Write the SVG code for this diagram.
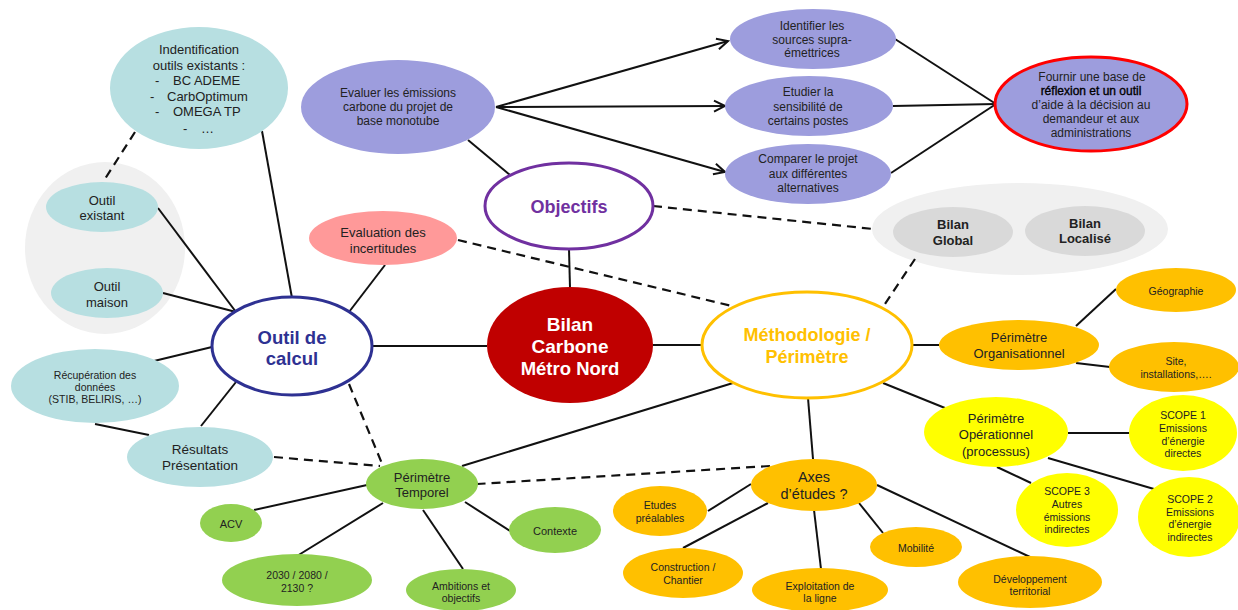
<svg xmlns="http://www.w3.org/2000/svg" width="1238" height="610" viewBox="0 0 1238 610">
<style>
text{font-family:"Liberation Sans",Arial,sans-serif;fill:#222;text-anchor:middle;dominant-baseline:central}
.ln{stroke:#111;stroke-width:2;fill:none}
.dash{stroke:#111;stroke-width:2.2;fill:none;stroke-dasharray:9 6}
.blue{fill:#b7dfe1}
.purple{fill:#9d9ddd}
.green{fill:#92d050}
.orange{fill:#ffc000}
.yellow{fill:#ffff00}
.s10{font-size:10.5px}
.s11{font-size:11px}
.s12{font-size:12px}
.s13{font-size:13px}
.b{font-weight:bold}
</style>
<defs>
<marker id="arr" markerUnits="userSpaceOnUse" markerWidth="14" markerHeight="14" refX="12" refY="7" orient="auto" viewBox="0 0 14 14">
<path d="M1,1.5 L12,7 L1,12.5" fill="none" stroke="#111" stroke-width="2"/>
</marker>
</defs>
<rect width="1238" height="610" fill="#fff"/>

<g id="group-outils"><ellipse cx="105" cy="248" rx="80" ry="86" fill="#f0f0f0"/></g>
<g id="group-bilans"><ellipse cx="1020" cy="229" rx="148" ry="46" fill="#f0f0f0"/></g>

<g id="connectors">
<line class="ln" x1="496" y1="107" x2="728" y2="41" marker-end="url(#arr)"/>
<line class="ln" x1="496" y1="107" x2="725" y2="106" marker-end="url(#arr)"/>
<line class="ln" x1="496" y1="107" x2="725" y2="172" marker-end="url(#arr)"/>
<line class="ln" x1="895" y1="39" x2="996" y2="104"/>
<line class="ln" x1="893" y1="106" x2="996" y2="104"/>
<line class="ln" x1="891" y1="173" x2="996" y2="104"/>
<line class="ln" x1="468" y1="140" x2="510" y2="175"/>
<line class="dash" x1="653" y1="206" x2="873" y2="229"/>
<line class="ln" x1="569" y1="249" x2="570" y2="288"/>
<line class="dash" x1="458" y1="240" x2="732" y2="306"/>
<line class="dash" x1="915" y1="259" x2="883" y2="307"/>
<line class="ln" x1="487" y1="346" x2="373" y2="346"/>
<line class="ln" x1="653" y1="345" x2="702" y2="345"/>
<line class="ln" x1="913" y1="345" x2="939" y2="345"/>
<line class="ln" x1="883" y1="383" x2="945" y2="408"/>
<line class="ln" x1="808" y1="398" x2="813" y2="459"/>
<line class="ln" x1="733" y1="383" x2="462" y2="466"/>
<line class="dash" x1="770" y1="466" x2="477" y2="484"/>
<line class="ln" x1="751" y1="484" x2="708" y2="511"/>
<line class="ln" x1="768" y1="503" x2="683" y2="548"/>
<line class="ln" x1="814" y1="510" x2="821" y2="569"/>
<line class="ln" x1="859" y1="503" x2="883" y2="533"/>
<line class="ln" x1="877" y1="485" x2="1030" y2="557"/>
<line class="ln" x1="1076" y1="326" x2="1116" y2="289"/>
<line class="ln" x1="1076" y1="363" x2="1110" y2="367"/>
<line class="ln" x1="1068" y1="433" x2="1130" y2="433"/>
<line class="ln" x1="1048" y1="458" x2="1154" y2="489"/>
<line class="ln" x1="997" y1="467" x2="1031" y2="483"/>
<line class="ln" x1="367" y1="485" x2="254" y2="510"/>
<line class="ln" x1="383" y1="503" x2="297" y2="556"/>
<line class="ln" x1="423" y1="510" x2="463" y2="569"/>
<line class="ln" x1="465" y1="502" x2="510" y2="531"/>
<line class="dash" x1="349" y1="384" x2="383" y2="466"/>
<line class="dash" x1="274" y1="457" x2="380" y2="466"/>
<line class="ln" x1="236" y1="382" x2="201" y2="426"/>
<line class="ln" x1="212" y1="347" x2="154" y2="361"/>
<line class="ln" x1="95" y1="424" x2="149" y2="435"/>
<line class="ln" x1="158" y1="208" x2="236" y2="312"/>
<line class="ln" x1="163" y1="293" x2="236" y2="312"/>
<line class="ln" x1="262" y1="131" x2="292" y2="298"/>
<line class="dash" x1="135" y1="132" x2="103" y2="182"/>
<line class="ln" x1="349" y1="312" x2="385" y2="265"/>
</g>

<g id="indentification"><ellipse class="blue" cx="199" cy="88" rx="89" ry="61"/>
<text class="s13" x="199" y="49">Indentification</text>
<text class="s13" x="199" y="65">outils existants :</text>
<text class="s13" style="text-anchor:start" x="155" y="80">-</text><text class="s13" style="text-anchor:start" x="173" y="80">BC ADEME</text>
<text class="s13" style="text-anchor:start" x="150" y="96">-</text><text class="s13" style="text-anchor:start" x="167" y="96">CarbOptimum</text>
<text class="s13" style="text-anchor:start" x="155" y="111">-</text><text class="s13" style="text-anchor:start" x="173" y="111">OMEGA TP</text>
<text class="s13" style="text-anchor:start" x="183" y="128">-</text><text class="s13" style="text-anchor:start" x="201" y="128">…</text>
</g>
<g id="outil-existant"><ellipse class="blue" cx="102" cy="207" rx="56" ry="25"/>
<text class="s13" x="102" y="200">Outil</text><text class="s13" x="102" y="215">existant</text></g>
<g id="outil-maison"><ellipse class="blue" cx="107" cy="293" rx="56" ry="25"/>
<text class="s13" x="107" y="286">Outil</text><text class="s13" x="107" y="302">maison</text></g>
<g id="outil-calcul"><ellipse cx="292" cy="346" rx="80" ry="49" fill="#fff" stroke="#2e3192" stroke-width="3"/>
<text class="b" style="font-size:18.5px;fill:#2e3192" x="292" y="337">Outil de</text>
<text class="b" style="font-size:18.5px;fill:#2e3192" x="292" y="358">calcul</text></g>
<g id="recuperation"><ellipse class="blue" cx="95" cy="386" rx="84" ry="37"/>
<text class="s10" x="95" y="375">Récupération des</text><text class="s10" x="95" y="387">données</text><text class="s10" x="95" y="399">(STIB, BELIRIS, …)</text></g>
<g id="resultats"><ellipse class="blue" cx="200" cy="457" rx="73" ry="30"/>
<text style="font-size:13.5px" x="200" y="449">Résultats</text><text style="font-size:13.5px" x="200" y="465">Présentation</text></g>

<g id="perimetre-temporel"><ellipse class="green" cx="422" cy="484" rx="56" ry="25"/>
<text class="s13" x="422" y="477">Périmètre</text><text class="s13" x="422" y="492">Temporel</text></g>
<g id="acv"><ellipse class="green" cx="231" cy="523" rx="31" ry="19"/><text class="s11" x="231" y="524">ACV</text></g>
<g id="annees"><ellipse class="green" cx="297" cy="580" rx="75" ry="26"/>
<text class="s10" x="297" y="575">2030 / 2080 /</text><text class="s10" x="297" y="588">2130 ?</text></g>
<g id="ambitions"><ellipse class="green" cx="461" cy="590" rx="55" ry="21"/>
<text class="s10" x="461" y="586">Ambitions et</text><text class="s10" x="461" y="598">objectifs</text></g>
<g id="contexte"><ellipse class="green" cx="555" cy="530" rx="46" ry="23"/><text class="s11" x="555" y="531">Contexte</text></g>

<g id="bilan-carbone"><ellipse cx="570" cy="345" rx="83" ry="58" fill="#c00000"/>
<text class="b" style="font-size:19px;fill:#fff" x="570" y="324">Bilan</text>
<text class="b" style="font-size:19px;fill:#fff" x="570" y="346">Carbone</text>
<text class="b" style="font-size:18.5px;fill:#fff" x="570" y="368">Métro Nord</text></g>

<g id="methodologie"><ellipse cx="807" cy="345" rx="105" ry="53" fill="#fff" stroke="#ffc000" stroke-width="3"/>
<text class="b" style="font-size:18px;fill:#ffc000" x="807" y="335">Méthodologie /</text>
<text class="b" style="font-size:18px;fill:#ffc000" x="807" y="357">Périmètre</text></g>

<g id="axes"><ellipse class="orange" cx="814" cy="485" rx="63" ry="26"/>
<text style="font-size:14.5px" x="814" y="477">Axes</text><text style="font-size:14.5px" x="814" y="494">d’études ?</text></g>
<g id="etudes-prealables"><ellipse class="orange" cx="660" cy="511" rx="47" ry="25"/>
<text class="s10" x="660" y="505">Etudes</text><text class="s10" x="660" y="518">préalables</text></g>
<g id="construction"><ellipse class="orange" cx="683" cy="573" rx="60" ry="25"/>
<text class="s10" x="683" y="567">Construction /</text><text class="s10" x="683" y="580">Chantier</text></g>
<g id="exploitation"><ellipse class="orange" cx="820" cy="590" rx="68" ry="22"/>
<text class="s10" x="820" y="586">Exploitation de</text><text class="s10" x="820" y="598">la ligne</text></g>
<g id="mobilite"><ellipse class="orange" cx="916" cy="547" rx="46" ry="20"/><text class="s10" x="916" y="548">Mobilité</text></g>
<g id="developpement"><ellipse class="orange" cx="1030" cy="582" rx="72" ry="26"/>
<text class="s10" x="1030" y="579">Développement</text><text class="s10" x="1030" y="591">territorial</text></g>

<g id="perimetre-organisationnel"><ellipse class="orange" cx="1019" cy="345" rx="80" ry="25"/>
<text class="s13" x="1019" y="337">Périmètre</text><text class="s13" x="1019" y="353">Organisationnel</text></g>
<g id="geographie"><ellipse class="orange" cx="1176" cy="290" rx="60" ry="22"/><text class="s10" x="1176" y="291">Géographie</text></g>
<g id="site"><ellipse class="orange" cx="1174" cy="367" rx="65" ry="25"/>
<text class="s10" x="1176" y="361">Site,</text><text class="s10" x="1176" y="374">installations,….</text></g>

<g id="perimetre-operationnel"><ellipse class="yellow" cx="996" cy="432" rx="72" ry="35"/>
<text class="s13" x="996" y="418">Périmètre</text><text class="s13" x="996" y="434">Opérationnel</text><text class="s13" x="996" y="451">(processus)</text></g>
<g id="scope1"><ellipse class="yellow" cx="1183" cy="433" rx="54" ry="38"/>
<text class="s10" x="1183" y="415">SCOPE 1</text><text class="s10" x="1183" y="428">Emissions</text><text class="s10" x="1183" y="441">d’énergie</text><text class="s10" x="1183" y="453">directes</text></g>
<g id="scope3"><ellipse class="yellow" cx="1067" cy="510" rx="51" ry="37"/>
<text class="s10" x="1067" y="491">SCOPE 3</text><text class="s10" x="1067" y="504">Autres</text><text class="s10" x="1067" y="517">émissions</text><text class="s10" x="1067" y="529">indirectes</text></g>
<g id="scope2"><ellipse class="yellow" cx="1189" cy="517" rx="51" ry="40"/>
<text class="s10" x="1190" y="499">SCOPE 2</text><text class="s10" x="1190" y="512">Emissions</text><text class="s10" x="1190" y="524">d’énergie</text><text class="s10" x="1190" y="537">indirectes</text></g>

<g id="objectifs"><ellipse cx="569" cy="206" rx="84" ry="43" fill="#fff" stroke="#7030a0" stroke-width="3"/>
<text class="b" style="font-size:18px;fill:#7030a0" x="569" y="207">Objectifs</text></g>
<g id="evaluer"><ellipse class="purple" cx="398" cy="107" rx="97" ry="47"/>
<text class="s12" x="398" y="93">Evaluer les émissions</text><text class="s12" x="398" y="107">carbone du projet de</text><text class="s12" x="398" y="121">base monotube</text></g>
<g id="incertitudes"><ellipse cx="383" cy="238" rx="74" ry="27" fill="#ff9999"/>
<text class="s13" x="383" y="232">Evaluation des</text><text class="s13" x="383" y="248">incertitudes</text></g>
<g id="identifier"><ellipse class="purple" cx="813" cy="39" rx="83" ry="30"/>
<text class="s12" x="812" y="26">Identifier les</text><text class="s12" x="812" y="40">sources supra-</text><text class="s12" x="812" y="53">émettrices</text></g>
<g id="etudier"><ellipse class="purple" cx="809" cy="106" rx="84" ry="30"/>
<text class="s12" x="808" y="92">Etudier la</text><text class="s12" x="808" y="107">sensibilité de</text><text class="s12" x="808" y="121">certains postes</text></g>
<g id="comparer"><ellipse class="purple" cx="808" cy="174" rx="83" ry="30"/>
<text class="s12" x="808" y="159">Comparer le projet</text><text class="s12" x="808" y="174">aux différentes</text><text class="s12" x="808" y="188">alternatives</text></g>
<g id="fournir"><ellipse class="purple" cx="1091" cy="104" rx="96" ry="47" stroke="#ff0000" stroke-width="3"/>
<text class="s12" x="1092" y="77">Fournir une base de</text>
<text class="s12" style="fill:#000;stroke:#000;stroke-width:0.35" x="1091" y="91">réflexion et un outil</text>
<text class="s12" x="1091" y="105">d’aide à la décision au</text>
<text class="s12" x="1091" y="119">demandeur et aux</text>
<text class="s12" x="1091" y="133">administrations</text></g>

<g id="bilan-global"><ellipse cx="953" cy="232" rx="60" ry="25" fill="#d9d9d9"/>
<text class="s13 b" x="953" y="224">Bilan</text><text class="s13 b" x="953" y="240">Global</text></g>
<g id="bilan-localise"><ellipse cx="1085" cy="231" rx="60" ry="25" fill="#d9d9d9"/>
<text class="s13 b" x="1085" y="223">Bilan</text><text class="s13 b" x="1085" y="238">Localisé</text></g>
</svg>
